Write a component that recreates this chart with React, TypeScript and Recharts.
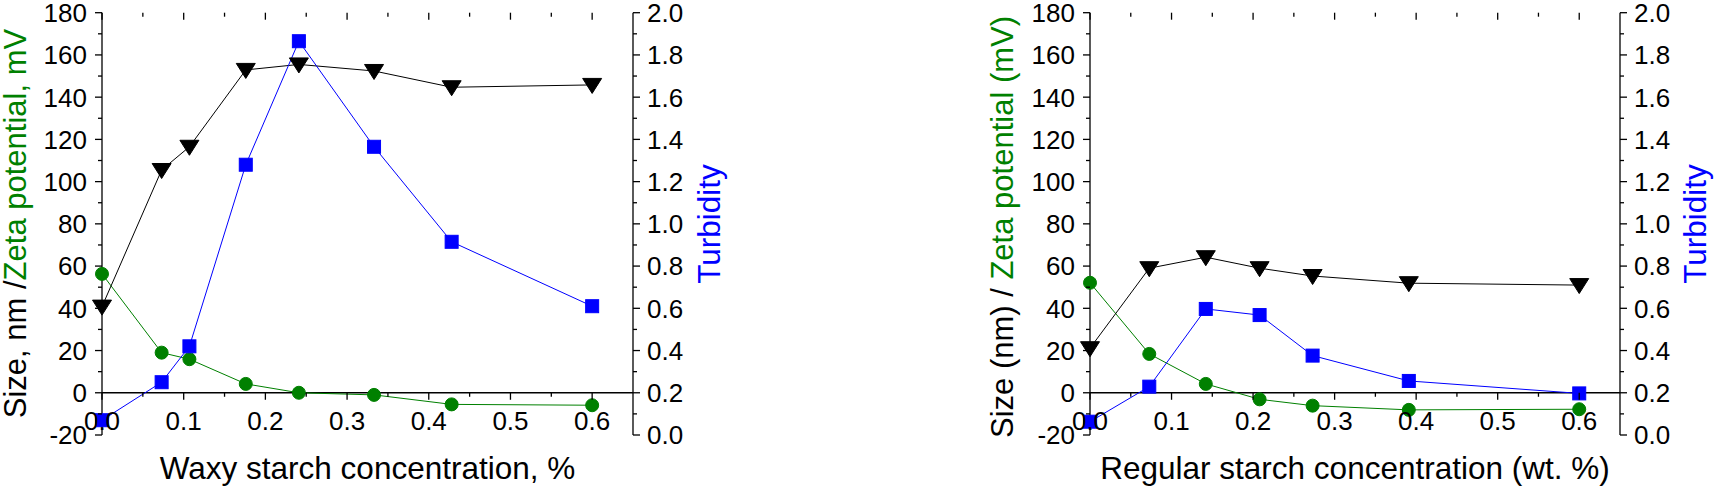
import React from "react";
import { ComposedChart, Line, XAxis, YAxis, ReferenceLine } from "recharts";

// panel a) waxy starch
const waxyConc = [0, 0.073, 0.107, 0.176, 0.241, 0.333, 0.428, 0.6];
const waxySize = [40.8, 105.5, 116.5, 152.9, 155.5, 152.4, 144.7, 145.8];
const waxyZeta = [56.3, 19.0, 15.9, 4.2, 0, -1.0, -5.5, -5.9];
const waxyTurb = [0.07, 0.25, 0.42, 1.28, 1.865, 1.365, 0.915, 0.61];

// panel b) regular starch
const regConc = [0, 0.0727, 0.142, 0.208, 0.273, 0.391, 0.6];
const regSize = [21.1, 59.0, 64.2, 59.0, 55.3, 51.9, 51.0];
const regZeta = [52.1, 18.4, 4.2, -3.1, -6.1, -8.1, -7.8];
const regTurb = [0.063, 0.229, 0.597, 0.568, 0.376, 0.256, 0.197];

// ticks (major + minor)
const xTicks = [0, 0.05, 0.1, 0.15, 0.2, 0.25, 0.3, 0.35, 0.4, 0.45, 0.5, 0.55, 0.6];
const leftTicks = [-20, -10, 0, 10, 20, 30, 40, 50, 60, 70, 80, 90, 100, 110, 120, 130, 140, 150, 160, 170, 180];
const rightTicks = [0, 0.1, 0.2, 0.3, 0.4, 0.5, 0.6, 0.7, 0.8, 0.9, 1.0, 1.1, 1.2, 1.3, 1.4, 1.5, 1.6, 1.7, 1.8, 1.9, 2.0];

const FONT = '"Liberation Sans", Arial, Helvetica, sans-serif';
const GREEN = "#008000";
const BLUE = "#0000ff";
const H = 487;
const TOP = 12.7;
const PLOT_H = H - 52 - TOP;
const ZERO_UP = (20 / 200) * PLOT_H;

const isMult = (v: number, step: number) => Math.abs(v / step - Math.round(v / step)) < 1e-6;

function XTick({ x, y, payload }: any) {
  const v = payload.value;
  const major = isMult(v, 0.1);
  const len = major ? 7 : 4;
  const top = y - PLOT_H;
  const zero = y - ZERO_UP;
  return (
    <g>
      <line x1={x} x2={x} y1={top} y2={top + len} stroke="#000" strokeWidth={1.3} />
      <line x1={x} x2={x} y1={zero} y2={zero + len} stroke="#000" strokeWidth={1.3} />
      {major && (
        <text x={x} y={y - 5} textAnchor="middle" fontSize={26} fontFamily={FONT} fill="#000">
          {v.toFixed(1)}
        </text>
      )}
    </g>
  );
}

function LeftTick({ x, y, payload }: any) {
  const v = payload.value;
  const major = isMult(v, 20);
  return (
    <g>
      <line x1={x} x2={x - (major ? 7 : 4)} y1={y} y2={y} stroke="#000" strokeWidth={1.3} />
      {major && (
        <text x={x - 15} y={y} dy="0.36em" textAnchor="end" fontSize={26} fontFamily={FONT} fill="#000">
          {v}
        </text>
      )}
    </g>
  );
}

function RightTick({ x, y, payload }: any) {
  const v = payload.value;
  const major = isMult(v, 0.2);
  return (
    <g>
      <line x1={x} x2={x + (major ? 7 : 4)} y1={y} y2={y} stroke="#000" strokeWidth={1.3} />
      {major && (
        <text x={x + 14} y={y} dy="0.36em" textAnchor="start" fontSize={26} fontFamily={FONT} fill="#000">
          {v.toFixed(1)}
        </text>
      )}
    </g>
  );
}

const triangleDot = (p: any) => {
  const { cx, cy, index } = p;
  return (
    <path key={`t${index}`} d={`M${cx - 9.5},${cy - 6.5} L${cx + 9.5},${cy - 6.5} L${cx},${cy + 8.5} Z`} fill="#000" stroke="#000" />
  );
};
const circleDot = (p: any) => <circle key={`c${p.index}`} cx={p.cx} cy={p.cy} r={6.5} fill={GREEN} stroke={GREEN} />;
const squareDot = (p: any) => (
  <rect key={`s${p.index}`} x={p.cx - 6.5} y={p.cy - 6.5} width={13} height={13} fill={BLUE} stroke={BLUE} />
);

interface PanelProps {
  conc: number[];
  size: number[];
  zeta: number[];
  turb: number[];
  left: number;
  width: number;
  leftAxisW: number;
  marginRight: number;
  letter: string;
  letterX: number;
  yTitle: [string, string];
  yTitleX: number;
  yTitleY: number;
  turbX: number;
  xTitle: string;
  xTitleX: number;
}

function Panel(p: PanelProps) {
  const data = p.conc.map((x, i) => ({ x, size: p.size[i], zeta: p.zeta[i], turb: p.turb[i] }));
  return (
    <div style={{ position: "absolute", left: p.left, top: 0, width: p.width, height: H }}>
      <ComposedChart width={p.width} height={H} data={data} margin={{ top: TOP, right: p.marginRight, bottom: 0, left: 0 }}>
        <XAxis
          xAxisId="top"
          orientation="top"
          type="number"
          dataKey="x"
          domain={[0, 0.65]}
          height={0}
          tick={false}
          tickLine={false}
          axisLine={{ stroke: "#000", strokeWidth: 1.3 }}
          label={{
            content: () => (
              <text x={p.letterX} y={48} fontSize={27} fontFamily={FONT} fill="#000">
                {p.letter}
              </text>
            ),
          }}
        />
        <XAxis
          xAxisId="x"
          type="number"
          dataKey="x"
          domain={[0, 0.65]}
          ticks={xTicks}
          interval={0}
          height={52}
          tickSize={0}
          tickMargin={0}
          tickLine={false}
          axisLine={false}
          tick={<XTick />}
          label={{
            content: () => (
              <text x={p.xTitleX} y={479} textAnchor="middle" fontSize={31.5} fontFamily={FONT} fill="#000">
                {p.xTitle}
              </text>
            ),
          }}
        />
        <YAxis
          yAxisId="L"
          type="number"
          domain={[-20, 180]}
          ticks={leftTicks}
          interval={0}
          width={p.leftAxisW}
          tickSize={0}
          tickMargin={0}
          tickLine={false}
          axisLine={{ stroke: "#000", strokeWidth: 1.3 }}
          tick={<LeftTick />}
          label={{
            content: () => (
              <text
                x={p.yTitleX}
                y={p.yTitleY}
                transform={`rotate(-90 ${p.yTitleX} ${p.yTitleY})`}
                textAnchor="middle"
                fontSize={31}
                fontFamily={FONT}
              >
                <tspan fill="#000">{p.yTitle[0]}</tspan>
                <tspan fill={GREEN}>{p.yTitle[1]}</tspan>
              </text>
            ),
          }}
        />
        <YAxis
          yAxisId="R"
          orientation="right"
          type="number"
          domain={[0, 2]}
          ticks={rightTicks}
          interval={0}
          width={80}
          tickSize={0}
          tickMargin={0}
          tickLine={false}
          axisLine={{ stroke: "#000", strokeWidth: 1.3 }}
          tick={<RightTick />}
          label={{
            content: () => (
              <text
                x={p.turbX}
                y={224}
                transform={`rotate(-90 ${p.turbX} 224)`}
                textAnchor="middle"
                fontSize={31.5}
                fontFamily={FONT}
                fill={BLUE}
              >
                Turbidity
              </text>
            ),
          }}
        />
        <ReferenceLine y={0} yAxisId="L" xAxisId="x" stroke="#000" strokeWidth={1.3} />
        <Line
          xAxisId="x"
          yAxisId="L"
          dataKey="zeta"
          type="linear"
          stroke={GREEN}
          strokeWidth={1}
          dot={circleDot}
          isAnimationActive={false}
        />
        <Line
          xAxisId="x"
          yAxisId="L"
          dataKey="size"
          type="linear"
          stroke="#000"
          strokeWidth={1}
          dot={triangleDot}
          isAnimationActive={false}
        />
        <Line
          xAxisId="x"
          yAxisId="R"
          dataKey="turb"
          type="linear"
          stroke={BLUE}
          strokeWidth={1}
          dot={squareDot}
          isAnimationActive={false}
        />
      </ComposedChart>
    </div>
  );
}

export default function App() {
  return (
    <div style={{ position: "absolute", left: 0, top: 0, width: 1715, height: H, background: "#fff", fontFamily: FONT }}>
      <Panel
        conc={waxyConc}
        size={waxySize}
        zeta={waxyZeta}
        turb={waxyTurb}
        left={0}
        width={760}
        leftAxisW={102}
        marginRight={47}
        letter="a)"
        letterX={125}
        yTitle={["Size, nm /", "Zeta potential, mV"]}
        yTitleX={26}
        yTitleY={223.5}
        turbX={720}
        xTitle="Waxy starch concentration, %"
        xTitleX={367.5}
      />
      <Panel
        conc={regConc}
        size={regSize}
        zeta={regZeta}
        turb={regTurb}
        left={880}
        width={835}
        leftAxisW={210}
        marginRight={15}
        letter="b)"
        letterX={230}
        yTitle={["Size (nm) / ", "Zeta potential (mV)"]}
        yTitleX={133}
        yTitleY={227}
        turbX={826}
        xTitle="Regular starch concentration (wt. %)"
        xTitleX={475}
      />
    </div>
  );
}
